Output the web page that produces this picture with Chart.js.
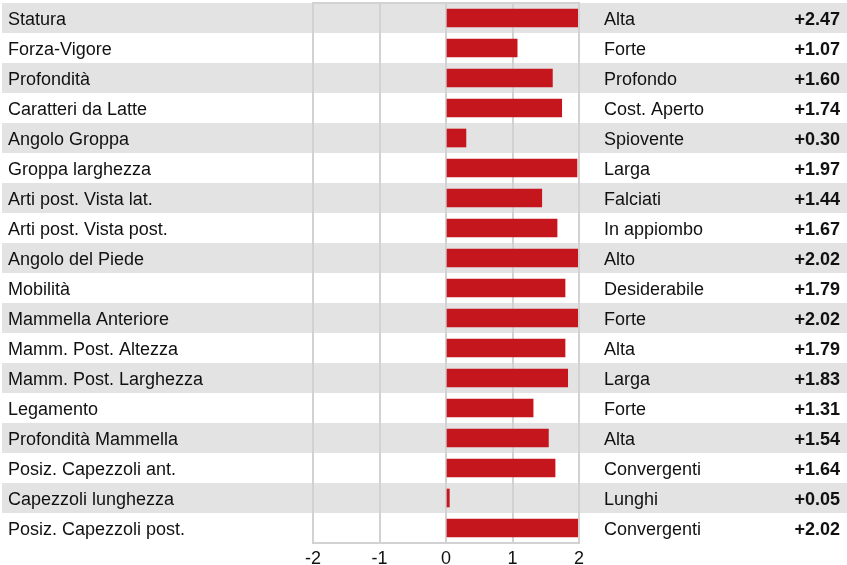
<!DOCTYPE html>
<html>
<head>
<meta charset="utf-8">
<script src="https://cdn.jsdelivr.net/npm/chart.js@4/dist/chart.umd.min.js"></script>
<style>
  html, body { margin: 0; padding: 0; background: #fff; }
  #wrap { width: 847px; height: 565px; }
</style>
</head>
<body>
<div id="wrap"><canvas id="traitsChart"></canvas></div>
<script>
// trait names (left), descriptors (right) and values
const traits = ['Statura', 'Forza-Vigore', 'Profondità', 'Caratteri da Latte', 'Angolo Groppa',
    'Groppa larghezza', 'Arti post. Vista lat.', 'Arti post. Vista post.', 'Angolo del Piede',
    'Mobilità', 'Mammella Anteriore', 'Mamm. Post. Altezza', 'Mamm. Post. Larghezza',
    'Legamento', 'Profondità Mammella', 'Posiz. Capezzoli ant.', 'Capezzoli lunghezza',
    'Posiz. Capezzoli post.'];
const descriptors = ['Alta', 'Forte', 'Profondo', 'Cost. Aperto', 'Spiovente', 'Larga', 'Falciati',
    'In appiombo', 'Alto', 'Desiderabile', 'Forte', 'Alta', 'Larga', 'Forte', 'Alta',
    'Convergenti', 'Lunghi', 'Convergenti'];
const values = [2.47, 1.07, 1.60, 1.74, 0.30, 1.97, 1.44, 1.67, 2.02, 1.79, 2.02, 1.79, 1.83,
    1.31, 1.54, 1.64, 0.05, 2.02];
const xTicks = [-2, -1, 0, 1, 2];

const FONT = "'Liberation Sans', Arial, Helvetica, sans-serif";
const TEXT = '#111';
const GRID = '#d2d2d2';

// gray bands on every other row, full width
const bandsPlugin = {
    id: 'bands',
    beforeDraw(chart) {
        const ctx = chart.ctx;
        const y = chart.scales.y;
        const area = chart.chartArea;
        const h = (area.bottom - area.top) / traits.length;
        ctx.save();
        ctx.fillStyle = '#e3e3e3';
        traits.forEach((t, i) => {
            if (i % 2 === 0) {
                const c = y.getPixelForValue(i);
                ctx.fillRect(2, c - h / 2, chart.width - 2, h);
            }
        });
        ctx.restore();
    }
};

// frame + right side texts
const sideTextPlugin = {
    id: 'sideText',
    afterDraw(chart) {
        const ctx = chart.ctx;
        const y = chart.scales.y;
        const area = chart.chartArea;
        ctx.save();
        ctx.strokeStyle = GRID;
        ctx.lineWidth = 2;
        ctx.strokeRect(area.left, area.top, area.right - area.left, area.bottom - area.top);
        ctx.fillStyle = TEXT;
        ctx.textBaseline = 'middle';
        traits.forEach((t, i) => {
            const c = y.getPixelForValue(i) + 2;
            ctx.font = '18px ' + FONT;
            ctx.textAlign = 'left';
            ctx.fillText(descriptors[i], area.right + 25, c);
            ctx.font = 'bold 18px ' + FONT;
            ctx.textAlign = 'right';
            const v = values[i];
            ctx.fillText((v >= 0 ? '+' : '') + v.toFixed(2), chart.width - 7, c);
        });
        ctx.restore();
    }
};

const ctx = document.getElementById('traitsChart').getContext('2d');
const chart = new Chart(ctx, {
    type: 'bar',
    data: {
        labels: traits,
        datasets: [{
            data: values,
            backgroundColor: '#c4161c',
            borderWidth: 0,
            barThickness: 18
        }]
    },
    options: {
        indexAxis: 'y',
        responsive: true,
        maintainAspectRatio: false,
        animation: false,
        layout: { padding: { left: 8, right: 268, top: 3, bottom: 0 } },
        plugins: {
            legend: { display: false },
            tooltip: { enabled: false }
        },
        scales: {
            x: {
                min: xTicks[0],
                max: xTicks[xTicks.length - 1],
                afterBuildTicks(scale) {
                    scale.ticks = xTicks.map(v => ({ value: v }));
                },
                afterFit(scale) { scale.height = 22; },
                ticks: {
                    font: { family: FONT, size: 18 },
                    color: TEXT,
                    padding: 5
                },
                grid: { color: GRID, lineWidth: 2, drawTicks: false },
                border: { display: false }
            },
            y: {
                afterFit(scale) {
                    scale.width = 305;
                    // labels sit inside their rows, no extra room needed
                    scale.paddingTop = 0;
                    scale.paddingBottom = 0;
                },
                ticks: {
                    crossAlign: 'far',
                    labelOffset: 2,
                    font: { family: FONT, size: 18 },
                    color: TEXT,
                    padding: 0
                },
                grid: { display: false, drawTicks: false },
                border: { display: false }
            }
        }
    },
    plugins: [bandsPlugin, sideTextPlugin]
});
</script>
</body>
</html>
